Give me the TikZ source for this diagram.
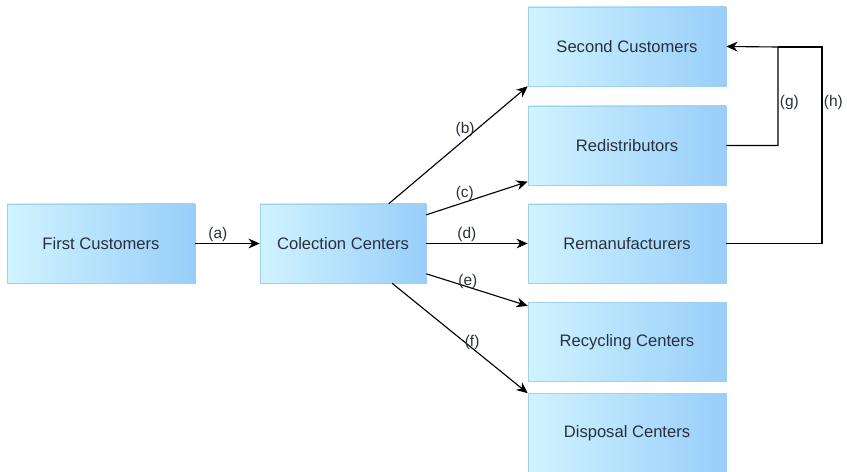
\documentclass[tikz,border=0pt]{standalone}
\usepackage{fontspec}
\setmainfont{Liberation Sans}
\definecolor{boxleft}{RGB}{208,243,255}
\definecolor{boxright}{RGB}{152,206,250}
\definecolor{boxline}{RGB}{160,208,240}
\definecolor{boxtext}{RGB}{40,48,60}
\usetikzlibrary{arrows.meta,positioning}
\tikzset{
  box/.style={rectangle,draw=boxline,left color=boxleft,right color=boxright,
              minimum width=#1,minimum height=1.975cm,inner sep=0pt,
              text=boxtext,font=\fontsize{11.8}{14}\selectfont},
  box/.default=4.95cm,
  arrow/.style={-{Stealth[length=8pt,width=7pt]},line width=0.8pt,black},
  tag/.style={font=\fontsize{11}{13}\selectfont,text=boxtext,inner sep=1pt},
}

\begin{document}
\begin{tikzpicture}[x=0.025cm,y=-0.025cm,
      link/.style={line width=0.8pt,black},
    ]
    \useasboundingbox (0,0) rectangle (847,472);

    % sources
    \node[box=4.7cm]  (fc) at (101,243.5) {First Customers};
    \node[box=4.15cm] (cc) at (343,243.5) {Colection Centers};

    % destinations
    \node[box] (sc) at (627,46.5)  {Second Customers};
    \node[box] (rd) at (627,145.5) {Redistributors};
    \node[box] (rm) at (627,243.5) {Remanufacturers};
    \node[box] (rc) at (627,342)   {Recycling Centers};
    \node[box] (dc) at (627,433)   {Disposal Centers};

    \draw[arrow] (fc.east) -- node[tag,above,pos=0.35] {(a)} (cc.west);
    \draw[arrow] (cc.41)   -- node[tag,above,pos=0.55] {(b)} (sc.south west);
    \draw[arrow] (cc.19)   -- node[tag,above,pos=0.38] {(c)} (rd.200);
    \draw[arrow] (cc.east) -- node[tag,above,pos=0.4]  {(d)} (rm.west);
    \draw[arrow] (cc.340)  -- node[tag,pos=0.41,yshift=4pt] {(e)} (rc.160);
    \draw[arrow] (cc.321)  -- node[tag,pos=0.59,yshift=4pt] {(f)} (dc.north west);

    % return loops
    \coordinate (gx) at (778,47);
    \coordinate (hx) at (822,47);
    \draw[arrow] (rd.east) -| node[tag,right,pos=0.72] {(g)} (gx) -- (sc.east);
    \draw[link]  (rm.east) -| node[tag,right,pos=0.86] {(h)} (hx) -- (gx);
  \end{tikzpicture}
\end{document}
